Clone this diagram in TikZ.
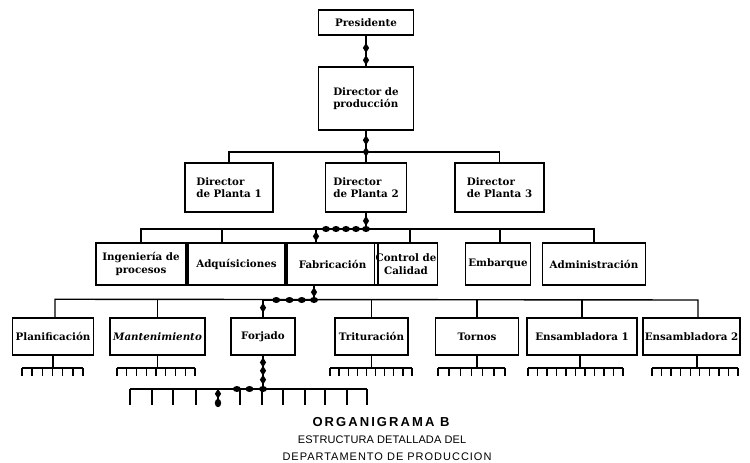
\documentclass[tikz,border=0pt]{standalone}
\usepackage{fontspec}
\setmainfont{DejaVu Serif}
\newfontfamily\captionfont{Liberation Sans}
\usetikzlibrary{shapes.geometric}

% comb of subordinate positions: left x, right x, intervals, bus y, tooth length
\newcommand{\tinecomb}[5]{%
  \draw[wire] (#1,#4) -- (#2,#4);
  \foreach \k in {0,...,#3} \draw[wire] ({#1+\k*(#2-#1)/#3},#4) -- ++(0,#5);
}

\begin{document}
\begin{tikzpicture}[x=1pt,y=-1pt,
  unit/.style={draw, line width=1.5pt, rectangle, inner sep=1pt,
    font=\fontsize{10.3}{12.5}\selectfont\bfseries, align=center},
  wire/.style={line width=1.4pt},
  jewelv/.pic={\fill (0,-5) -- (3.1,0) -- (0,5) -- (-3.1,0) -- cycle;},
  jewelh/.pic={\fill (0,0) ellipse (4 and 3);},
  caption/.style={inner sep=0pt}
]
\useasboundingbox (0,0) rectangle (750,463);

% ---- top of the chain of command
\node[unit, minimum width=95, minimum height=25] (pres) at (366,22.5) {Presidente};
\node[unit, minimum width=95, minimum height=63, align=left] (dp) at (366,98.5) {Director de\\producción};

% ---- plant directors
\node[unit, minimum width=88, minimum height=49, align=left] (d1) at (229,187.5) {Director\\de Planta 1};
\node[unit, minimum width=81, minimum height=49, align=left] (d2) at (366,187.5) {Director\\de Planta 2};
\node[unit, minimum width=89, minimum height=49, align=left] (d3) at (499.5,187.5) {Director\\de Planta 3};

% ---- departments of plant 2
\node[unit, minimum width=90, minimum height=42] (ing) at (141,264) {Ingeniería de\\procesos};
\node[unit, minimum width=97, minimum height=42] (adq) at (236.5,264) {Adquísiciones};
\node[unit, minimum width=91, minimum height=42] (fab) at (332.5,264) {Fabricación};
\node[unit, minimum width=58, minimum height=42] (cal) at (406,264) {Control de\\Calidad};
\node[unit, minimum width=65, minimum height=42] (emb) at (498,264) {Embarque};
\node[unit, minimum width=103, minimum height=42] (adm) at (594,264) {Administración};

% ---- sections of manufacturing
\node[unit, minimum width=81, minimum height=37] (pla) at (53,336.5) {Planificación};
\node[unit, minimum width=95, minimum height=37, font=\fontsize{10.3}{12.5}\selectfont\bfseries\itshape] (man) at (157.5,336.5) {Mantenimiento};
\node[unit, minimum width=64, minimum height=37] (for) at (263,336.5) {Forjado};
\node[unit, minimum width=73, minimum height=37] (tri) at (371.5,336.5) {Trituración};
\node[unit, minimum width=83, minimum height=37] (tor) at (477,336.5) {Tornos};
\node[unit, minimum width=110, minimum height=37] (en1) at (582,336.5) {Ensambladora 1};
\node[unit, minimum width=97, minimum height=37] (en2) at (691.5,336.5) {Ensambladora 2};

% bus lines
\coordinate (busA) at (0,152);
\coordinate (busB) at (0,229);
\coordinate (busC) at (0,300);
\coordinate (busD) at (0,368);
\coordinate (busE) at (0,389);
\coordinate (adqtop) at ([xshift=-14.5pt]adq.north);
\coordinate (fabtop) at ([xshift=-16.5pt]fab.north);
\coordinate (fabbot) at ([xshift=-18.5pt]fab.south);
\coordinate (en2top) at ([xshift=6.5pt]en2.north);

% ---- ordinary connectors
\draw[wire] (d1.north) -- (d1.north |- busA) -- (d3.north |- busA) -- (d3.north);
\draw[wire] (ing.north) -- (ing.north |- busB) -- (adm.north |- busB) -- (adm.north);
\draw[wire] (adqtop) -- (adqtop |- busB);
\draw[wire] (cal.north) ++(4,0) -- ++(0,-14);
\draw[wire] (emb.north) ++(2,0) -- ++(0,-14);
\draw[wire] (pla.north) ++(2,0) -- ++(0,-18) -- (en2top |- busC) -- (en2top);
\draw[wire] (man.north) -- (man.north |- busC);
\draw[wire] (tri.north) -- (tri.north |- busC);
\draw[wire] (tor.north) -- (tor.north |- busC);
\draw[wire] (en1.north) -- (en1.north |- busC);

% ---- the highlighted line of authority
\draw[wire] (pres.south) -- pic[pos=.4]{jewelv} pic[pos=.8]{jewelv} (dp.north);
\draw[wire] (dp.south) -- pic[pos=.3]{jewelv} pic[pos=.67]{jewelv} (d2.north);
\draw[wire] (d2.south) -- pic[pos=.5]{jewelv} (d2.south |- busB)
  -- pic[pos=0]{jewelh} pic[pos=.2]{jewelh} pic[pos=.4]{jewelh} pic[pos=.6]{jewelh} pic[pos=.8]{jewelh} (fabtop |- busB)
  -- pic[pos=.55]{jewelv} (fabtop);
\draw[wire] (fabbot) -- pic[pos=.45]{jewelv} (fabbot |- busC)
  -- pic[pos=0]{jewelh} pic[pos=.24]{jewelh} pic[pos=.48]{jewelh} pic[pos=.74]{jewelh} (for.north |- busC)
  -- pic[pos=.45]{jewelv} (for.north);
\draw[wire] (for.south) -- pic[pos=.2]{jewelv} pic[pos=.45]{jewelv} pic[pos=.72]{jewelv} (for.south |- busE)
  -- pic[pos=0]{jewelh} pic[pos=.3]{jewelh} pic[pos=.58]{jewelh} (218,389)
  -- pic[pos=.3]{jewelv} (218,405);
\fill (218,403) ellipse (3.2 and 4.2);

% ---- combs of workers under each section
\draw[wire] (pla.south) -- (pla.south |- busD);
\tinecomb{22}{83}{6}{368}{8}
\draw[wire] (man.south) -- (man.south |- busD);
\tinecomb{117}{195}{8}{368}{8}
\draw[wire] (tri.south) -- (tri.south |- busD);
\tinecomb{330}{412}{9}{368}{8}
\draw[wire] (tor.south) -- (tor.south |- busD);
\tinecomb{438}{505}{6}{368}{8}
\draw[wire] (en1.south) ++(-2,0) -- ++(0,13);
\tinecomb{528}{623}{10}{368}{8}
\draw[wire] (en2.south) ++(5.5,0) -- ++(0,13);
\tinecomb{652}{738}{9}{368}{8}

% workers under the forge
\draw[wire] (130,389) -- (367,389);
\foreach \t in {130,152,173,196,218,240,262,283,305,325,347,367}
  \draw[wire] (\t,389) -- (\t,405);

% ---- caption
\node[caption, font=\captionfont\bfseries\fontsize{13}{15}\selectfont\addfontfeature{LetterSpace=16}] (t1) at (381,422) {ORGANIGRAMA B};
\node[caption, font=\captionfont\fontsize{11}{13}\selectfont\addfontfeature{LetterSpace=1}] (t2) at (382,440) {ESTRUCTURA DETALLADA DEL};
\node[caption, font=\captionfont\fontsize{11}{13}\selectfont\addfontfeature{LetterSpace=9}] (t3) at (387,457) {DEPARTAMENTO DE PRODUCCION};
\end{tikzpicture}
\end{document}
